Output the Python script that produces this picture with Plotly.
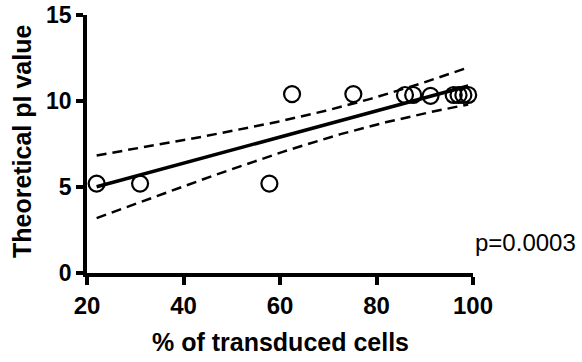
import numpy as np
import plotly.graph_objects as go

# Data
pct_transduced = [22.0, 31.0, 57.8, 62.5, 75.2, 85.9, 87.6, 91.2, 96.0, 97.0, 98.0, 99.0]
pi_value = [5.2, 5.2, 5.2, 10.4, 10.4, 10.35, 10.35, 10.3, 10.35, 10.35, 10.35, 10.35]
x_ticks = [20, 40, 60, 80, 100]
y_ticks = [0, 5, 10, 15]
p_label = "p=0.0003"

x = np.array(pct_transduced)
y = np.array(pi_value)
n = len(x)
slope, intercept = np.polyfit(x, y, 1)
resid = y - (slope * x + intercept)
s = np.sqrt(np.sum(resid ** 2) / (n - 2))
t_crit = 2.228  # 95%, df = 10
xf = np.linspace(x.min(), x.max(), 100)
yf = slope * xf + intercept
se = s * np.sqrt(1 / n + (xf - x.mean()) ** 2 / np.sum((x - x.mean()) ** 2))
upper = yf + t_crit * se
lower = yf - t_crit * se

FONT = "Arial, 'Liberation Sans', sans-serif"

fig = go.Figure()
for band in (upper, lower):
    fig.add_trace(go.Scatter(x=xf, y=band, mode="lines",
                             line=dict(color="black", width=2.5, dash="10px,6px"), hoverinfo="skip"))
fig.add_trace(go.Scatter(x=xf, y=yf, mode="lines",
                         line=dict(color="black", width=3.5), hoverinfo="skip"))
fig.add_trace(go.Scatter(x=pct_transduced, y=pi_value, mode="markers",
                         marker=dict(symbol="circle-open", size=16, color="black",
                                     line=dict(width=2.2, color="black")),
                         cliponaxis=False))

fig.add_annotation(x=100, y=1.75, xref="x", yref="y", text=p_label, showarrow=False,
                   xanchor="left", yanchor="middle", xshift=0,
                   font=dict(family=FONT, size=24, color="black"))
fig.add_annotation(x=0.5, y=-0.267, xref="paper", yref="paper",
                   text="<b>% of transduced cells</b>", showarrow=False,
                   xanchor="center", yanchor="middle",
                   font=dict(family=FONT, size=25, color="black"))
fig.add_annotation(x=-0.168, y=0.512, xref="paper", yref="paper",
                   text="<b>Theoretical pI value</b>", showarrow=False, textangle=-90,
                   xanchor="center", yanchor="middle",
                   font=dict(family=FONT, size=25, color="black"))

fig.update_layout(
    width=582, height=362,
    margin=dict(l=87, r=109, t=15, b=89, autoexpand=False),
    plot_bgcolor="white", paper_bgcolor="white",
    showlegend=False,
    font=dict(family=FONT, color="black"),
)
fig.update_xaxes(range=[20, 100], tickvals=x_ticks, ticktext=[f"<b>{v}</b>" for v in x_ticks],
                 showline=True, linecolor="black", linewidth=3.5, showgrid=False, zeroline=False,
                 ticks="outside", ticklen=8, tickwidth=3.5, tickcolor="black", automargin=False,
                 ticklabeloverflow="allow",
                 tickfont=dict(family=FONT, size=24, color="black"))
fig.update_yaxes(range=[0, 15], tickvals=y_ticks, ticktext=[f"<b>{v}</b>" for v in y_ticks],
                 showline=True, linecolor="black", linewidth=3.5, showgrid=False, zeroline=False,
                 ticks="outside", ticklen=7, tickwidth=3.5, tickcolor="black", automargin=False,
                 ticklabeloverflow="allow",
                 tickfont=dict(family=FONT, size=23, color="black"))

fig.write_html("out.html", config={"displayModeBar": False},
               post_script="document.body.style.margin='0';")
